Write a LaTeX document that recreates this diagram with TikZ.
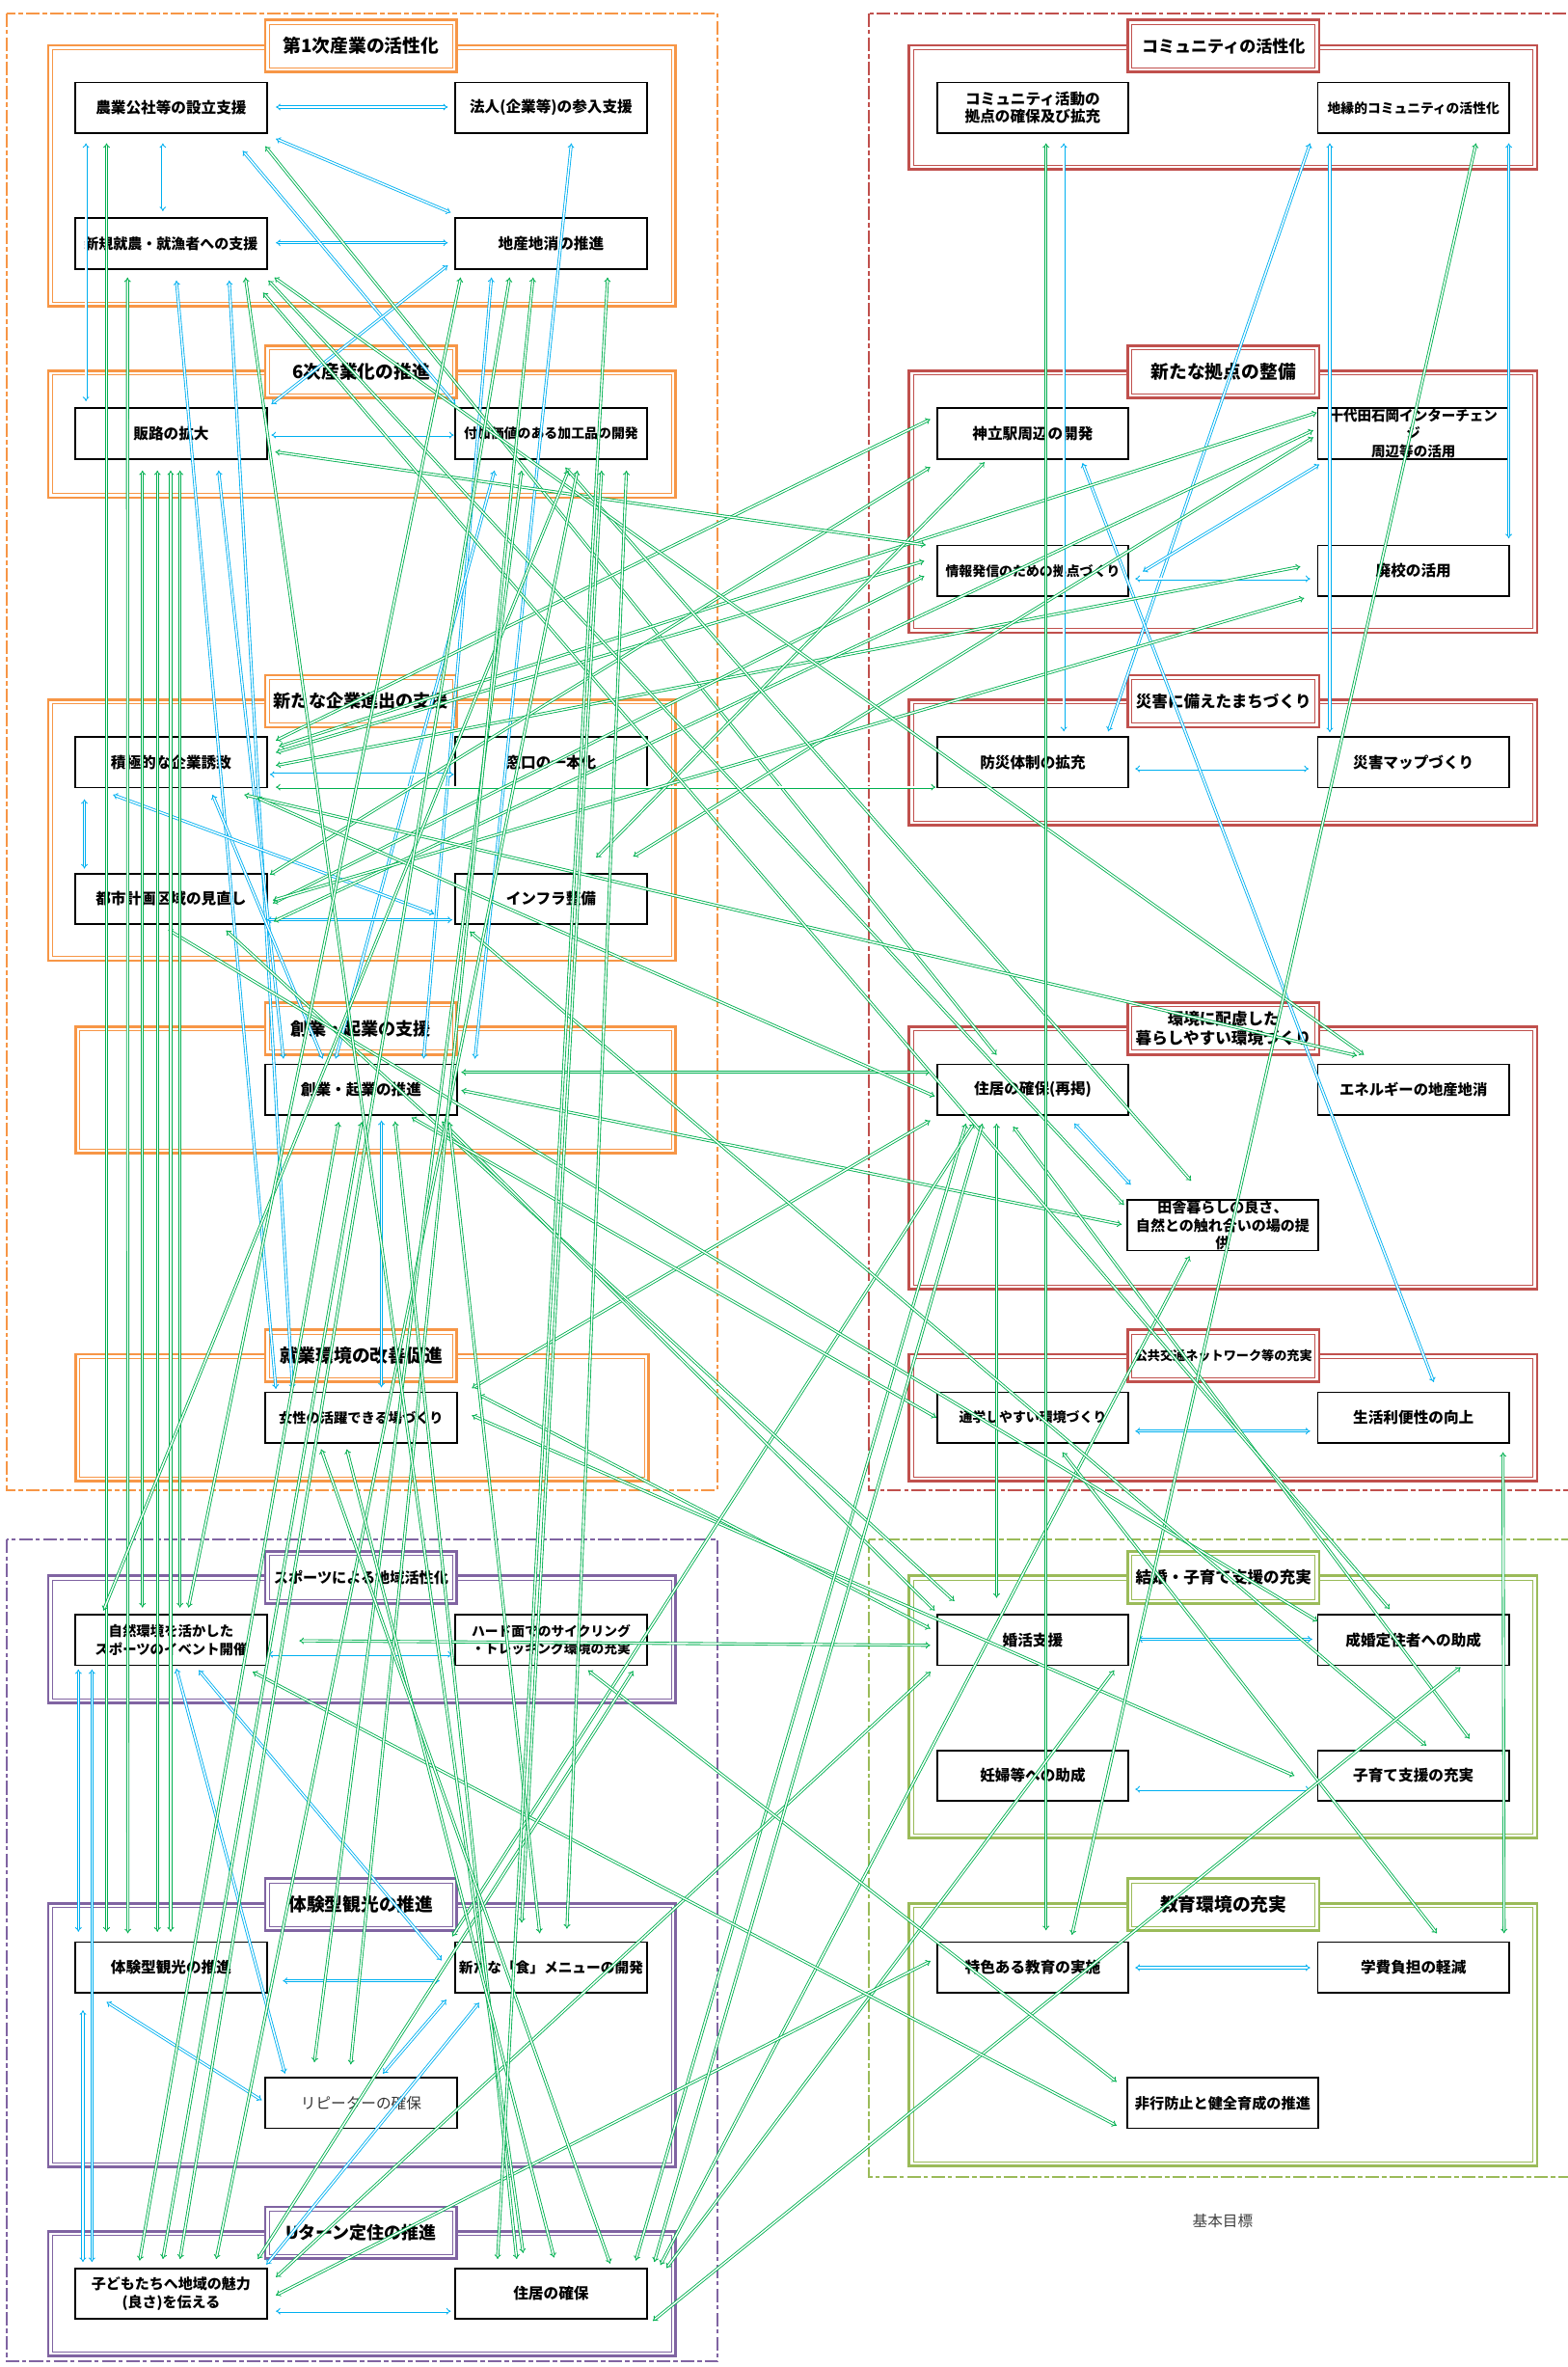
\documentclass[tikz,border=0pt]{standalone}
\usepackage{fontspec}
\setmainfont{Noto Sans CJK JP}
\usetikzlibrary{arrows.meta}
\definecolor{cOr}{HTML}{F79646}
\definecolor{cRd}{HTML}{C0504D}
\definecolor{cPu}{HTML}{8064A2}
\definecolor{cOl}{HTML}{9BBB59}
\definecolor{cB}{HTML}{00B0F0}
\definecolor{cG}{HTML}{00B050}
\tikzset{
 cnb/.style={draw=cB, line width=0.55pt, double=white, double distance=0.9pt, {Implies}-{Implies}},
 cng/.style={draw=cG, line width=0.55pt, double=white, double distance=0.9pt, {Implies}-{Implies}},
 odash/.style={line width=1.3pt, dash pattern=on 9pt off 2pt on 3pt off 2pt},
 txt/.style={inner sep=0pt, align=center}
}
\newcommand\mkbox[5]{%
 \fill[white] (#2-63.5,#3-16.75) rectangle (#2+63.5,#3+16.75);
 \draw[line width=1.1pt] (#2-63.5,#3-16.75) rectangle (#2+63.5,#3+16.75);
 \node[txt, font=\bfseries\fontsize{#4pt}{11.8pt}\selectfont] (#1) at (#2,#3) {#5};}
\newcommand\mkttl[6]{%
 \fill[white] (#2-63.5,#3-17.25) rectangle (#2+63.5,#3+17.25);
 \draw[#4,line width=1.6pt] (#2-63.5,#3-17.25) rectangle (#2+63.5,#3+17.25);
 \draw[#4,line width=0.5pt] (#2-60.7,#3-14.45) rectangle (#2+60.7,#3+14.45);
 \node[txt, font=\bfseries\fontsize{#5pt}{13.2pt}\selectfont] (#1) at (#2,#3) {#6};}
\newcommand\mkfr[5]{%
 \draw[#1,line width=1.8pt] (#2,#3) rectangle (#4,#5);
 \draw[#1,line width=0.5pt] (#2+2.7,#3+2.7) rectangle (#4-2.7,#5-2.7);}
\newcommand\lk[5]{\draw[#1] ([shift={(#3)}]#2.center) -- ([shift={(#5)}]#4.center);}
\begin{document}
\begin{tikzpicture}[x=1pt,y=-1pt]
\useasboundingbox (0,0) rectangle (1040,1569.6);
% outer dashed frames
\draw[cOr,odash] (4.5,8.7) rectangle (476,988);
\draw[cRd,odash] (576,8.7) rectangle (1060,988);
\draw[cPu,odash] (4.5,1021) rectangle (476,1566);
\draw[cOl,odash] (576,1021) rectangle (1060,1443.4);
% group frames left
\mkfr{cOr}{32}{30}{448}{203}
\mkfr{cOr}{32}{246}{448}{330}
\mkfr{cOr}{32}{464}{448}{637}
\mkfr{cOr}{50}{680.6}{448}{764.5}
\mkfr{cOr}{50}{898}{430}{982}
\mkfr{cPu}{32}{1045}{448}{1129}
\mkfr{cPu}{32}{1262}{448}{1437}
\mkfr{cPu}{32}{1479.6}{448}{1562}
% group frames right
\mkfr{cRd}{603}{30}{1019.5}{112.4}
\mkfr{cRd}{603}{246}{1019.5}{419.6}
\mkfr{cRd}{603}{464}{1019.5}{547}
\mkfr{cRd}{603}{680.6}{1019.5}{854.6}
\mkfr{cRd}{603}{898}{1019.5}{982}
\mkfr{cOl}{603}{1045}{1019.5}{1218.6}
\mkfr{cOl}{603}{1262}{1019.5}{1436}
% titles
\mkttl{t1}{239.5}{30.5}{cOr}{12}{第1次産業の活性化}
\mkttl{t2}{239.5}{246.5}{cOr}{12}{6次産業化の推進}
\mkttl{t3}{239.5}{465}{cOr}{11.6}{新たな企業進出の支援}
\mkttl{t4}{239.5}{682}{cOr}{11.6}{創業・起業の支援}
\mkttl{t5}{239.5}{899}{cOr}{12}{就業環境の改善促進}
\mkttl{t6}{239.5}{1046}{cPu}{9.7}{スポーツによる地域活性化}
\mkttl{t7}{239.5}{1263}{cPu}{12}{体験型観光の推進}
\mkttl{t8}{239.5}{1480.5}{cPu}{11.5}{Uターン定住の推進}
\mkttl{t9}{811.5}{30.5}{cRd}{10.9}{コミュニティの活性化}
\mkttl{t10}{811.5}{246.5}{cRd}{12}{新たな拠点の整備}
\mkttl{t11}{811.5}{465}{cRd}{10.6}{災害に備えたまちづくり}
\mkttl{t12}{811.5}{682}{cRd}{10.6}{環境に配慮した\\暮らしやすい環境づくり}
\mkttl{t13}{811.5}{899}{cRd}{8.4}{公共交通ネットワーク等の充実}
\mkttl{t14}{811.5}{1046}{cOl}{10.6}{結婚・子育て支援の充実}
\mkttl{t15}{811.5}{1263}{cOl}{12}{教育環境の充実}
% boxes left
\mkbox{A1}{113.5}{71.5}{10}{農業公社等の設立支援}
\mkbox{A2}{365.5}{71.5}{10}{法人(企業等)の参入支援}
\mkbox{A3}{113.5}{161.5}{9.6}{新規就農・就漁者への支援}
\mkbox{A4}{365.5}{161.5}{10}{地産地消の推進}
\mkbox{B1}{113.5}{287.5}{10}{販路の拡大}
\mkbox{B2}{365.5}{287.5}{8.9}{付加価値のある加工品の開発}
\mkbox{C1}{113.5}{505.5}{10}{積極的な企業誘致}
\mkbox{C2}{365.5}{505.5}{10}{窓口の一本化}
\mkbox{C3}{113.5}{596}{10}{都市計画区域の見直し}
\mkbox{C4}{365.5}{596}{10}{インフラ整備}
\mkbox{D1}{239.5}{722.5}{10}{創業・起業の推進}
\mkbox{E1}{239.5}{940}{9.1}{女性の活躍できる場づくり}
\mkbox{F1}{113.5}{1087.5}{9.2}{自然環境を活かした\\スポーツのイベント開催}
\mkbox{F2}{365.5}{1087.5}{8.8}{ハード面でのサイクリング\\・トレッキング環境の充実}
\mkbox{G1}{113.5}{1304.5}{10}{体験型観光の推進}
\mkbox{G2}{365.5}{1304.5}{9.4}{新たな「食」メニューの開発}
\fill[white] (176,1377.75) rectangle (303,1411.25);
\draw[line width=1.1pt] (176,1377.75) rectangle (303,1411.25);
\node[txt, text=black!80, font=\fontsize{10pt}{11.8pt}\selectfont] (G3) at (239.5,1394.5) {リピーターの確保};
\mkbox{H1}{113.5}{1521}{9.6}{子どもたちへ地域の魅力\\(良さ)を伝える}
\mkbox{H2}{365.5}{1521}{10}{住居の確保}
% boxes right
\mkbox{P1}{685}{71.5}{10}{コミュニティ活動の\\拠点の確保及び拡充}
\mkbox{P2}{937.5}{71.5}{8.8}{地縁的コミュニティの活性化}
\mkbox{Q1}{685}{287.5}{10}{神立駅周辺の開発}
\mkbox{Q2}{937.5}{287.5}{9.3}{十代田石岡インターチェン\\ジ\\周辺等の活用}
\mkbox{Q3}{685}{378.5}{8.9}{情報発信のための拠点づくり}
\mkbox{Q4}{937.5}{378.5}{10}{廃校の活用}
\mkbox{R1}{685}{505.5}{10}{防災体制の拡充}
\mkbox{R2}{937.5}{505.5}{10}{災害マップづくり}
\mkbox{S1}{685}{722.5}{10}{住居の確保(再掲)}
\mkbox{S2}{937.5}{722.5}{9.8}{エネルギーの地産地消}
\mkbox{S3}{811}{812.5}{9.6}{田舎暮らしの良さ、\\自然との触れ合いの場の提\\供}
\mkbox{T1}{685}{940}{8.9}{通学しやすい環境づくり}
\mkbox{T2}{937.5}{940}{10}{生活利便性の向上}
\mkbox{U1}{685}{1087.5}{10}{婚活支援}
\mkbox{U2}{937.5}{1087.5}{10}{成婚定住者への助成}
\mkbox{U3}{685}{1177.5}{10}{妊婦等への助成}
\mkbox{U4}{937.5}{1177.5}{10}{子育て支援の充実}
\mkbox{V1}{685}{1304.5}{10}{特色ある教育の実施}
\mkbox{V2}{937.5}{1304.5}{10}{学費負担の軽減}
\mkbox{V3}{811}{1394.5}{9.7}{非行防止と健全育成の推進}
% blue connectors
\lk{cnb}{A1}{69.5,-0.5}{A2}{-68.5,-0.5}
\lk{cnb}{A3}{69.5,-0.5}{A4}{-68.5,-0.5}
\lk{cnb}{A1}{-5.5,23.5}{A3}{-5.5,-21.5}
\lk{cnb}{A1}{69.5,20.5}{A4}{-66.5,-20.5}
\lk{cnb}{A1}{-56.5,23.5}{B1}{-56.5,-21.5}
\lk{cnb}{A1}{47.5,28.5}{B2}{-63.5,-19.5}
\lk{cnb}{A4}{-68.5,14.5}{B1}{66.5,-19.5}
\lk{cnb}{B1}{66.5,1}{B2}{-64.5,1}
\lk{cnb}{A2}{13.5,23.5}{D1}{75.5,-20.5}
\lk{cnb}{A3}{3.5,24.5}{E1}{-56.5,-19}
\lk{cnb}{A3}{38.5,24.5}{E1}{-45.5,-19}
\lk{cnb}{B1}{31.5,24.5}{D1}{-51.5,-20.5}
\lk{cnb}{C1}{27.5,21.5}{D1}{-25.5,-20.5}
\lk{cnb}{A4}{-39.5,22.5}{D1}{41.5,-20.5}
\lk{cnb}{B2}{-37.5,24.5}{D1}{-16.9,-20.5}
\lk{cnb}{D1}{13.5,20.5}{E1}{13.5,-20}
\lk{cnb}{C1}{65.5,8}{C2}{-64.5,8}
\lk{cnb}{C1}{-57.5,24.5}{C3}{-57.5,-20}
\lk{cnb}{C1}{-38.5,21.5}{C4}{-77.5,10}
\lk{cnb}{C3}{63.5,14}{C4}{-65.5,14}
\lk{cnb}{F1}{64.5,9.5}{F2}{-65.5,9.5}
\lk{cnb}{F1}{-61.5,19.5}{G1}{-61.5,-23.5}
\lk{cnb}{F1}{-52.5,19.5}{H1}{-52.5,-21}
\lk{cnb}{G1}{-58.5,28.5}{H1}{-58.5,-21}
\lk{cnb}{G1}{74.1,9}{G2}{-74,9}
\lk{cnb}{G1}{-42.8,23}{G3}{-65.9,-1.8}
\lk{cnb}{F1}{3.5,19}{G3}{-50.5,-19.5}
\lk{cnb}{F1}{18.3,20}{G2}{-72.5,-4.5}
\lk{cnb}{G2}{-69.5,21.5}{G3}{14.5,-19.5}
\lk{cnb}{G2}{-47.7,23.5}{H1}{63.2,-19.4}
\lk{cnb}{H1}{69.5,11.6}{H2}{-66.5,11.6}
\lk{cnb}{P1}{20.6,23.5}{R1}{20.6,-20.5}
\lk{cnb}{P2}{-68.5,23.5}{R1}{50,-20.5}
\lk{cnb}{P2}{-55.5,23.5}{R2}{-55.5,-19.9}
\lk{cnb}{P2}{63.2,23.5}{Q4}{63.2,-21.5}
\lk{cnb}{Q2}{-62.5,20.5}{Q3}{73,0.5}
\lk{cnb}{Q3}{68,5.3}{Q4}{-68.5,5.3}
\lk{cnb}{R1}{68,4.3}{R2}{-69.5,4.3}
\lk{cnb}{Q1}{33,19.5}{T2}{13.5,-23.5}
\lk{cnb}{S1}{27.5,22.5}{S3}{-61,-26.9}
\lk{cnb}{T1}{68,9}{T2}{-68.5,9}
\lk{cnb}{U1}{69.7,-0.5}{U2}{-67.1,-0.5}
\lk{cnb}{U3}{68,9}{U4}{-68.5,9}
\lk{cnb}{V1}{68,0.3}{V2}{-68.5,0.3}
% green connectors
\lk{cng}{A1}{62.5,25.5}{S1}{-24,-23}
\lk{cng}{C1}{69.5,-14.5}{Q1}{-68,-9.5}
\lk{cng}{C1}{69.5,-6.5}{Q3}{-72,-6.5}
\lk{cng}{C1}{69.5,2.1}{Q4}{-75,-2.8}
\lk{cng}{C1}{69.5,16.5}{R1}{-64.5,16.5}
\lk{cng}{C1}{71.5,-10.5}{Q2}{-64.1,-13.9}
\lk{cng}{C3}{65.5,-16}{Q1}{-68,22.2}
\lk{cng}{C3}{67.5,3}{Q3}{-72,3.5}
\lk{cng}{C3}{68,15}{Q2}{-66.5,-2.2}
\lk{cng}{C4}{29.9,-27.3}{Q1}{-32,19}
\lk{cng}{C4}{54.5,-28}{Q2}{-66.5,2.5}
\lk{cng}{C3}{67.5,1}{Q4}{-72.5,18.1}
\lk{cng}{B1}{69.1,12.1}{Q3}{-71,-17.1}
\lk{cng}{D1}{66.5,-11.5}{S1}{-68,-11.5}
\lk{cng}{D1}{66.5,0.5}{S3}{-67,-0.5}
\lk{cng}{A3}{64.5,24.5}{S3}{-65.5,-13.5}
\lk{cng}{B2}{9.5,22.5}{S3}{-21,-29.5}
\lk{cng}{S3}{-22,20.5}{H2}{72.5,-19}
\lk{cng}{A3}{68.5,22.5}{S2}{-32.8,-23}
\lk{cng}{C1}{48.5,21.5}{S2}{-37.5,-22.5}
\lk{cng}{C1}{57,23.5}{S1}{-65,4.5}
\lk{cng}{E1}{73.5,-19.5}{S1}{-68,20.5}
\lk{cng}{E1}{78.5,-15}{U1}{-68,-7.5}
\lk{cng}{E1}{73.5,-1.5}{U4}{-78.9,0.1}
\lk{cng}{S1}{-44.3,22.5}{H2}{56.2,-22}
\lk{cng}{S1}{-39,22.5}{G2}{-65.5,-20.5}
\lk{cng}{S1}{-24,22.5}{U1}{-24,-27.9}
\lk{cng}{S1}{-13,24.5}{U4}{37.2,-24.5}
\lk{cng}{T1}{19.7,23}{V2}{15.5,-22.5}
\lk{cng}{T2}{59.4,23}{V2}{60.1,-22.5}
\lk{cng}{P1}{8.8,23.5}{V1}{8.8,-24.5}
\lk{cng}{P2}{41.5,23.5}{V1}{26,-21.5}
\lk{cng}{A3}{61,32.5}{U2}{-15.8,-20.5}
\lk{cng}{C3}{36.5,21}{U1}{-52,-25.8}
\lk{cng}{C3}{-1.9,20.6}{U2}{-63.5,-12.5}
\lk{cng}{C4}{-53.9,21.7}{U4}{8.5,-19.9}
\lk{cng}{F1}{85,0.5}{U1}{-68,3.5}
\lk{cng}{H1}{69.5,-11}{U1}{-67.7,21}
\lk{cng}{U1}{54,20.1}{H2}{76.5,-17}
\lk{cng}{U2}{31.2,18}{H2}{67.5,18}
\lk{cng}{H1}{69.5,1}{V1}{-67.8,-4.1}
\lk{cng}{F2}{24.5,20.1}{V3}{-70.4,-14}
\lk{cng}{F1}{54.1,21.1}{V3}{-70.4,15}
\lk{cng}{D1}{53.5,21.1}{U1}{-65,-19.5}
\lk{cng}{D1}{33.5,18.5}{T1}{-64,0}
\lk{cng}{A1}{-42.8,23.5}{G1}{-42.8,-23.5}
\lk{cng}{A3}{-28.9,22.5}{G1}{-28.7,-22.5}
\lk{cng}{B1}{-19,24.5}{F1}{-19,-21.5}
\lk{cng}{B1}{-9.1,24.5}{G1}{-9.1,-23.5}
\lk{cng}{B1}{-0.3,24.5}{G1}{-0.3,-23.5}
\lk{cng}{B1}{5.9,24.5}{F1}{5.9,-21.5}
\lk{cng}{B2}{11.5,24.5}{F1}{-44.9,-19.5}
\lk{cng}{D1}{-14.9,21.5}{H1}{-20.9,-22}
\lk{cng}{D1}{0.5,21.5}{H1}{-5.5,-23}
\lk{cng}{A4}{-27.5,22.5}{H1}{5.9,-23}
\lk{cng}{B2}{17.5,24.5}{H1}{29.9,-23}
\lk{cng}{F2}{54.5,20.5}{H1}{57.5,-23}
\lk{cng}{B2}{33.5,24.5}{G2}{-19.5,-29.5}
\lk{cng}{D1}{58.5,21.5}{G2}{-7.5,-22.5}
\lk{cng}{B2}{50,24.5}{G2}{10.5,-25.5}
\lk{cng}{B2}{-19.5,24.5}{G3}{-31,-27}
\lk{cng}{A4}{-11.9,22.5}{G3}{-6.9,-25.5}
\lk{cng}{D1}{22.5,21.1}{H2}{-22.8,-23}
\lk{cng}{A3}{49.3,22.5}{H2}{-18.5,-27}
\lk{cng}{E1}{-9.5,21}{H2}{2,-24}
\lk{cng}{E1}{-26.5,21}{H2}{39.2,-20}
\lk{cng}{A4}{37.5,22.5}{H2}{-35.5,-23}
\lk{cng}{A4}{-60,22.5}{F1}{11.5,-21.5}
\lk{cng}{S1}{-33.4,22.5}{H2}{68.5,-21}
% label
\node[txt, text=black!75, font=\fontsize{10pt}{12pt}\selectfont] (lbl) at (811,1473) {基本目標};
\end{tikzpicture}
\end{document}
